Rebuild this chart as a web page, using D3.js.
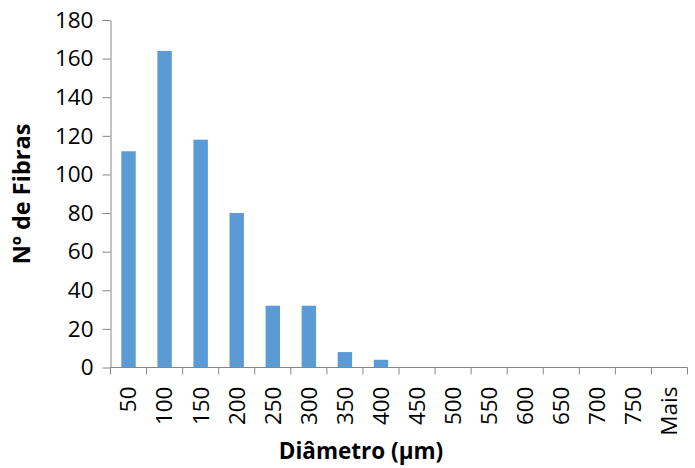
<!DOCTYPE html>
<html><head><meta charset="utf-8">
<script src="https://cdn.jsdelivr.net/npm/d3@7"></script>
<style>
body{margin:0;background:#fff;}
svg{display:block;font-family:"Open Sans",sans-serif;}
</style></head>
<body><svg id="c" width="695" height="468"></svg>
<script>
const categories = ["50","100","150","200","250","300","350","400","450","500","550","600","650","700","750","Mais"];
const values = [112,164,118,80,32,32,8,4,0,0,0,0,0,0,0,0];
const yTicks = [0,20,40,60,80,100,120,140,160,180];

const svg = d3.select("#c");
const L = 110.5, R = 687.5, T = 20, B = 367.5;
const x = d3.scaleBand().domain(categories).range([L, R]).paddingInner(0.6).paddingOuter(0.3);
const xAxisScale = d3.scaleBand().domain(categories).range([L, R]);
const y = d3.scaleLinear().domain([0,180]).range([B, T]);
const axisColor = "#868686";
const fs = 22.5;

svg.append("g").selectAll("rect").data(values).join("rect")
  .attr("x", (d,i) => x(categories[i]))
  .attr("width", x.bandwidth())
  .attr("y", d => y(d))
  .attr("height", d => B - y(d))
  .attr("fill", "#5B9BD5");

// y axis
const ya = svg.append("g").attr("transform", `translate(${L},0)`)
  .call(d3.axisLeft(y).tickValues(yTicks).tickSize(8).tickPadding(9).tickSizeOuter(0));
ya.select(".domain").attr("stroke", axisColor);
ya.selectAll(".tick line").attr("stroke", axisColor);
ya.selectAll(".tick text").attr("font-size", fs).attr("fill", "#000").attr("font-family", "Open Sans");

// x axis with ticks at band boundaries
const xa = svg.append("g").attr("transform", `translate(0,${B})`);
xa.append("line").attr("x1", L).attr("x2", R).attr("stroke", axisColor);
const bounds = categories.map(c => xAxisScale(c)).concat([R]);
xa.selectAll("line.t").data(bounds).join("line").attr("class","t")
  .attr("x1", d => d).attr("x2", d => d).attr("y1", 0).attr("y2", 7).attr("stroke", axisColor);
xa.selectAll("text").data(categories).join("text")
  .attr("transform", d => `translate(${xAxisScale(d) + xAxisScale.bandwidth()/2},19) rotate(-90)`)
  .attr("text-anchor", "end")
  .attr("dy", "0.35em")
  .attr("font-size", fs)
  .attr("fill", "#000")
  .text(d => d);

// titles
svg.append("text").attr("x", 361).attr("y", 459).attr("text-anchor", "middle")
  .attr("font-size", 22.5).attr("font-weight", "bold").text("Diâmetro (µm)");
svg.append("text").attr("transform", "translate(30,194) rotate(-90)").attr("text-anchor", "middle")
  .attr("font-size", 23.5).attr("font-weight", "bold").text("Nº de Fibras");
</script></body></html>
